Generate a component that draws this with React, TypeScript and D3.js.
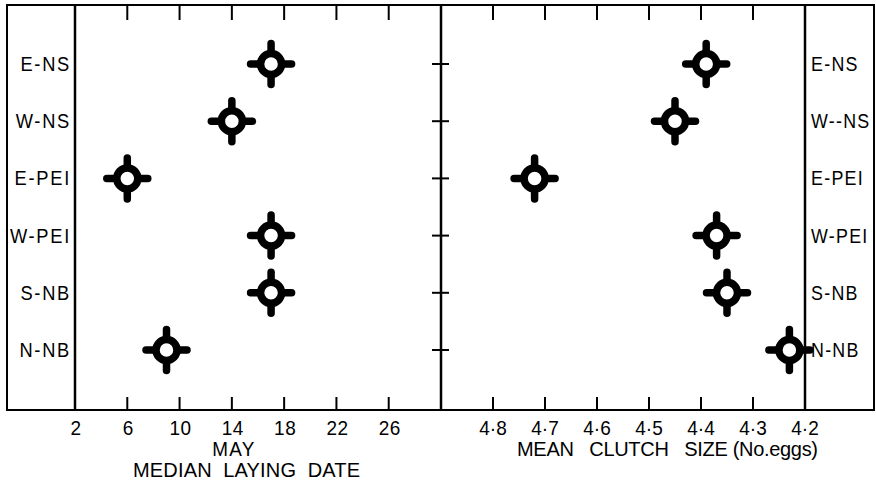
import React from 'react';
import * as d3 from 'd3';

const categories = ['E-NS', 'W-NS', 'E-PEI', 'W-PEI', 'S-NB', 'N-NB'];
const rightLabels = ['E-NS', 'W--NS', 'E-PEI', 'W-PEI', 'S-NB', 'N-NB'];
const layingDate = [17, 14, 6, 17, 17, 9];
const clutchSize = [4.39, 4.45, 4.72, 4.37, 4.35, 4.23];
const dateTicks = [2, 6, 10, 14, 18, 22, 26];
const clutchTicks = [4.8, 4.7, 4.6, 4.5, 4.4, 4.3, 4.2];
const clutchTickLabels = ['4·8', '4·7', '4·6', '4·5', '4·4', '4·3', '4·2'];

const W = 876;
const H = 481;
const FONT = '"Liberation Sans", Arial, sans-serif';

function Marker({ cx, cy }: { cx: number; cy: number }) {
  const arm = 20.5;
  const inner = 12;
  return (
    <g transform={`translate(${cx},${cy})`}>
      {[[-1, 0], [1, 0], [0, -1], [0, 1]].map(([dx, dy], i) => (
        <line key={i} x1={dx * inner} y1={dy * inner} x2={dx * arm} y2={dy * arm}
          stroke="#000" strokeWidth={7.5} strokeLinecap="round" />
      ))}
      <circle r={10.5} fill="#fff" stroke="#000" strokeWidth={7.5} />
    </g>
  );
}

function Label({ x, y, anchor, text, size = 21, sx = 0.87, ls = 2 }:
  { x: number; y: number; anchor: 'start' | 'end' | 'middle'; text: string; size?: number; sx?: number; ls?: number }) {
  return (
    <text transform={`translate(${x},${y}) scale(${sx},1)`} textAnchor={anchor}
      fontFamily={FONT} fontSize={size} letterSpacing={ls} fill="#000">{text}</text>
  );
}

export default function App() {
  const top = 5;
  const bottom = 410;
  const outerL = 7;
  const outerR = 874;
  const axL = 75;
  const mid = 441;
  const axR = 805;

  const xDate = d3.scaleLinear().domain([2, 30]).range([axL, mid]);
  const xClutch = d3.scaleLinear().domain([4.9, 4.2]).range([mid, axR]);
  const y = d3.scalePoint<string>().domain(categories).range([64, 350]);

  const tickLen = 15;

  return (
    <svg width={W} height={H} style={{ position: 'absolute', left: 0, top: 0, background: '#fff' }}>
      {/* frame */}
      <rect x={outerL} y={top} width={outerR - outerL} height={bottom - top} fill="none" stroke="#000" strokeWidth={2} />
      <line x1={axL} y1={top} x2={axL} y2={bottom} stroke="#000" strokeWidth={2.5} />
      <line x1={mid} y1={top} x2={mid} y2={bottom} stroke="#000" strokeWidth={2.5} />
      <line x1={axR} y1={top} x2={axR} y2={bottom} stroke="#000" strokeWidth={2.5} />

      {/* left panel ticks */}
      {dateTicks.filter(d => d !== 2).map(d => (
        <g key={'dt' + d}>
          <line x1={xDate(d)} x2={xDate(d)} y1={top} y2={top + tickLen} stroke="#000" strokeWidth={2} />
          <line x1={xDate(d)} x2={xDate(d)} y1={bottom} y2={bottom - tickLen + 2} stroke="#000" strokeWidth={2} />
        </g>
      ))}
      {dateTicks.map(d => (
        <Label key={'dl' + d} x={xDate(d) + 1} y={435} anchor="middle" text={String(d)} size={20} sx={0.95} ls={0.5} />
      ))}

      {/* right panel ticks */}
      {clutchTicks.filter(c => c !== 4.2).map(c => (
        <g key={'ct' + c}>
          <line x1={xClutch(c)} x2={xClutch(c)} y1={top} y2={top + tickLen} stroke="#000" strokeWidth={2} />
          <line x1={xClutch(c)} x2={xClutch(c)} y1={bottom} y2={bottom - tickLen + 2} stroke="#000" strokeWidth={2} />
        </g>
      ))}
      {clutchTicks.map((c, i) => (
        <Label key={'cl' + c} x={xClutch(c)} y={435} anchor="middle" text={clutchTickLabels[i]} size={20} sx={0.95} ls={0} />
      ))}

      {/* y ticks on divider */}
      {categories.map(c => (
        <line key={'yt' + c} x1={mid - 9} x2={mid + 8} y1={y(c)!} y2={y(c)!} stroke="#000" strokeWidth={2} />
      ))}

      {/* category labels */}
      {categories.map(c => (
        <Label key={'ll' + c} x={71} y={y(c)! + 7} anchor="end" text={c} />
      ))}
      {rightLabels.map((c, i) => (
        <Label key={'rl' + c} x={811} y={y(categories[i])! + 7} anchor="start" text={c} sx={0.85} ls={1.5} />
      ))}

      {/* markers */}
      {categories.map((c, i) => (
        <Marker key={'ml' + c} cx={xDate(layingDate[i])} cy={y(c)!} />
      ))}
      {categories.map((c, i) => (
        <Marker key={'mr' + c} cx={xClutch(clutchSize[i])} cy={y(c)!} />
      ))}

      {/* axis titles */}
      <Label x={234} y={456} anchor="middle" text="MAY" size={21} sx={0.9} ls={1.5} />
      <text x={133} y={477} textAnchor="start" fontFamily={FONT} fontSize={20} fill="#000"
        textLength={227} lengthAdjust="spacing" style={{ whiteSpace: 'pre' }}>MEDIAN  LAYING  DATE</text>
      <text x={517} y={456} textAnchor="start" fontFamily={FONT} fontSize={20} fill="#000"
        textLength={301} lengthAdjust="spacing" style={{ whiteSpace: 'pre' }}>MEAN   CLUTCH   SIZE (No.eggs)</text>
    </svg>
  );
}
